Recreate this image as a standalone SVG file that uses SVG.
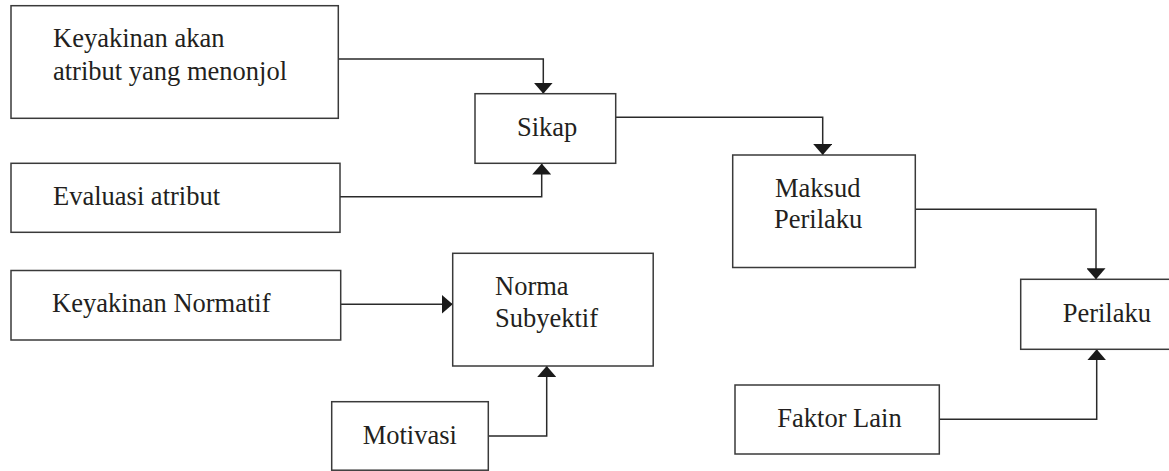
<svg xmlns="http://www.w3.org/2000/svg" width="1169" height="471" viewBox="0 0 1169 471">
<style>
.box{fill:#fff;stroke:#3a3a3a;stroke-width:1.5}
.lbl{font-family:"Liberation Serif","Times New Roman",serif;font-size:26.5px;fill:#231f20}
.con{fill:none;stroke:#2a2a2a;stroke-width:1.5}
</style>
<defs>
<marker id="ah" markerUnits="userSpaceOnUse" markerWidth="11" markerHeight="19" refX="11" refY="9.5" orient="auto" viewBox="0 0 11 19">
<path d="M0,0 L11,9.5 L0,19 z" fill="#1a1a1a"/>
</marker>
</defs>
<rect width="1169" height="471" fill="#fff"/>
<g id="connectors">
<path class="con" d="M338.5,59 H543.3 V93.7" marker-end="url(#ah)"/>
<path class="con" d="M340,196.7 H541.7 V163.6" marker-end="url(#ah)"/>
<path class="con" d="M615.7,117.3 H822.7 V155" marker-end="url(#ah)"/>
<path class="con" d="M915.3,209.3 H1096 V279.3" marker-end="url(#ah)"/>
<path class="con" d="M340.7,304.3 H452.7" marker-end="url(#ah)"/>
<path class="con" d="M488.3,436 H546.7 V366" marker-end="url(#ah)"/>
<path class="con" d="M939.3,419.3 H1096.7 V349.3" marker-end="url(#ah)"/>
</g>
<g id="keyakinan-atribut">
<rect class="box" x="11" y="5.7" width="327.3" height="112.6"/>
<text class="lbl" x="53" y="47">Keyakinan akan</text>
<text class="lbl" x="53" y="79.5">atribut yang menonjol</text>
</g>
<g id="evaluasi">
<rect class="box" x="11" y="163.3" width="329" height="69"/>
<text class="lbl" x="53" y="205">Evaluasi atribut</text>
</g>
<g id="keyakinan-normatif">
<rect class="box" x="11" y="270.5" width="329.7" height="69.5"/>
<text class="lbl" x="52" y="311.7">Keyakinan Normatif</text>
</g>
<g id="sikap">
<rect class="box" x="475" y="93.7" width="140.7" height="69.6"/>
<text class="lbl" x="517" y="136">Sikap</text>
</g>
<g id="maksud">
<rect class="box" x="732.7" y="155" width="182.6" height="112.5"/>
<text class="lbl" x="775" y="196.7">Maksud</text>
<text class="lbl" x="774" y="228.3">Perilaku</text>
</g>
<g id="norma">
<rect class="box" x="452.7" y="253.3" width="200.5" height="112.7"/>
<text class="lbl" x="495" y="295">Norma</text>
<text class="lbl" x="495" y="326.7">Subyektif</text>
</g>
<g id="motivasi">
<rect class="box" x="331.7" y="401.7" width="156.6" height="68.5"/>
<text class="lbl" x="362.7" y="444">Motivasi</text>
</g>
<g id="perilaku">
<rect class="box" x="1020.7" y="279.3" width="160" height="70"/>
<text class="lbl" x="1062.7" y="322.3">Perilaku</text>
</g>
<g id="faktor-lain">
<rect class="box" x="735" y="385" width="204.3" height="69"/>
<text class="lbl" x="777.3" y="426.7">Faktor Lain</text>
</g>
</svg>
